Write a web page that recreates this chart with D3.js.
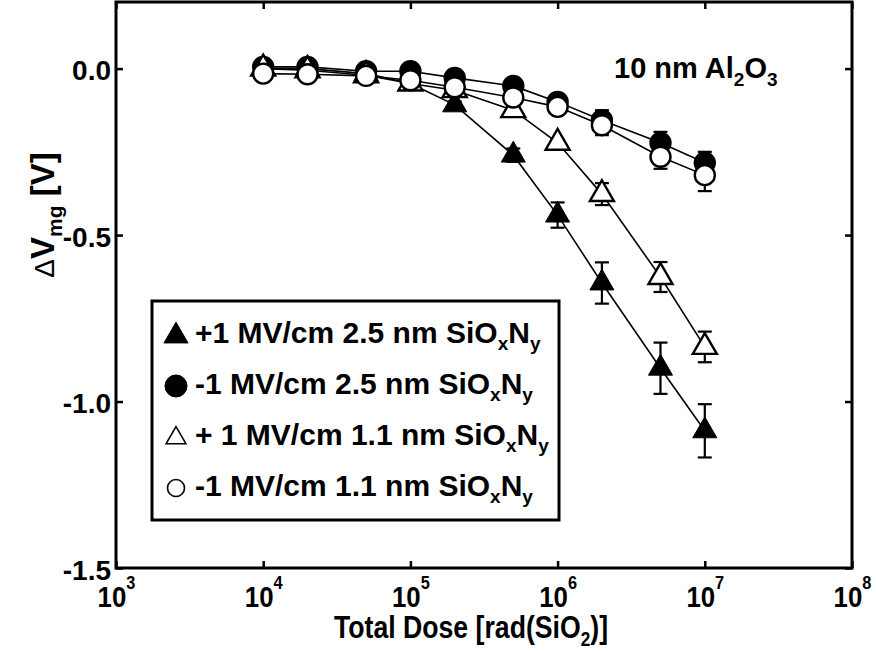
<!DOCTYPE html>
<html>
<head>
<meta charset="utf-8">
<script src="https://cdn.jsdelivr.net/npm/d3@7"></script>
<style>
  html, body { margin: 0; padding: 0; background: #fff; }
  svg { display: block; }
  text { font-family: "Liberation Sans", Arial, sans-serif; font-weight: bold; fill: #000; }
</style>
</head>
<body>
<svg id="chart" width="876" height="651"></svg>
<script>
// Total dose (rad(SiO2)) at which each shift was measured
const dose = [1e4, 2e4, 5e4, 1e5, 2e5, 5e5, 1e6, 2e6, 5e6, 1e7];

// Midgap voltage shift ΔVmg (V) and error bars for each bias / interlayer
const posBias25 = [0.0, 0.0, -0.015, -0.045, -0.109, -0.26, -0.44, -0.644, -0.90, -1.088];
const posBias25Err = [0, 0, 0, 0, 0.01, 0.02, 0.038, 0.062, 0.077, 0.08];
const negBias25 = [0.005, 0.005, -0.008, -0.008, -0.028, -0.052, -0.10, -0.155, -0.223, -0.283];
const negBias25Err = [0, 0, 0, 0, 0, 0.01, 0.02, 0.03, 0.033, 0.033];
const posBias11 = [0.0, -0.005, -0.02, -0.045, -0.065, -0.125, -0.223, -0.377, -0.626, -0.836];
const posBias11Err = [0, 0, 0, 0, 0, 0.01, 0.01, 0.033, 0.045, 0.046];
const negBias11 = [-0.015, -0.017, -0.022, -0.035, -0.056, -0.087, -0.115, -0.17, -0.265, -0.32];
const negBias11Err = [0, 0, 0, 0, 0, 0.01, 0.015, 0.03, 0.036, 0.048];

const xTickExp = [3, 4, 5, 6, 7, 8];
const yTicks = [0, -0.5, -1.0, -1.5];

const series = [
  { values: posBias25, err: posBias25Err, shape: "triangle", filled: true,
    label: ["+1 MV/cm 2.5 nm SiO", "x", "N", "y"] },
  { values: negBias25, err: negBias25Err, shape: "circle", filled: true,
    label: ["-1 MV/cm 2.5 nm SiO", "x", "N", "y"] },
  { values: posBias11, err: posBias11Err, shape: "triangle", filled: false,
    label: ["+ 1 MV/cm 1.1 nm SiO", "x", "N", "y"] },
  { values: negBias11, err: negBias11Err, shape: "circle", filled: false,
    label: ["-1 MV/cm 1.1 nm SiO", "x", "N", "y"] }
];

const svg = d3.select("#chart");
const plot = { left: 116, right: 852, top: 2, bottom: 568 };

const x = d3.scaleLog().domain([1e3, 1e8]).range([plot.left, plot.right]);
const y = d3.scaleLinear().domain([-1.5, 0.2]).range([plot.bottom, plot.top]);

// Inward ticks on all four sides
const tickLen = 7;
const axisStyle = g => {
  g.select(".domain").remove();
  g.selectAll(".tick line").attr("stroke", "#000").attr("stroke-width", 2.5);
  g.selectAll(".tick text").remove();
};

const xBottom = svg.append("g").attr("transform", `translate(0,${plot.bottom})`)
  .call(d3.axisBottom(x).tickValues(xTickExp.map(e => Math.pow(10, e)))
    .tickSize(-tickLen).tickFormat(""))
  .call(axisStyle);
svg.append("g").attr("transform", `translate(0,${plot.top})`)
  .call(d3.axisTop(x).tickValues(xTickExp.map(e => Math.pow(10, e)))
    .tickSize(-tickLen).tickFormat(""))
  .call(axisStyle);

const yLeft = svg.append("g").attr("transform", `translate(${plot.left},0)`)
  .call(d3.axisLeft(y).tickValues(yTicks).tickSize(-tickLen))
  .call(axisStyle);
svg.append("g").attr("transform", `translate(${plot.right},0)`)
  .call(d3.axisRight(y).tickValues(yTicks).tickSize(-tickLen).tickFormat(""))
  .call(axisStyle);

// Value labels beside the left axis
yLeft.selectAll(".tick").append("text")
  .attr("x", -5).attr("y", 11).attr("text-anchor", "end")
  .attr("font-size", "28px")
  .text(d => d3.format(".1f")(d).replace("−", "-"));

// Power-of-ten labels under the bottom axis (condensed, as in the axis title)
xBottom.selectAll(".tick").each(function (d) {
  const t = d3.select(this).append("g").attr("transform", "translate(0,39) scale(0.86,1)")
    .append("text").attr("text-anchor", "middle").attr("font-size", "30px");
  t.append("tspan").text("10");
  t.append("tspan").attr("font-size", "19px").attr("dy", -18).text(Math.round(Math.log10(d)));
});

// Frame
svg.append("rect")
  .attr("x", plot.left).attr("y", plot.top)
  .attr("width", plot.right - plot.left).attr("height", plot.bottom - plot.top)
  .attr("fill", "none").attr("stroke", "#000").attr("stroke-width", 3);

// Connecting lines
const line = d3.line().x((d, i) => x(dose[i])).y(d => y(d));
series.forEach(s => {
  svg.append("path").datum(s.values)
    .attr("d", line).attr("fill", "none").attr("stroke", "#000").attr("stroke-width", 1.6);
});

// Error bars
const capHalf = 7;
series.forEach(s => {
  const g = svg.append("g").attr("stroke", "#000").attr("stroke-width", 2.2);
  s.values.forEach((v, i) => {
    const e = s.err[i];
    if (!e) return;
    const cx = x(dose[i]);
    g.append("line").attr("x1", cx).attr("x2", cx).attr("y1", y(v + e)).attr("y2", y(v - e));
    [v + e, v - e].forEach(w => {
      g.append("line").attr("x1", cx - capHalf).attr("x2", cx + capHalf)
        .attr("y1", y(w)).attr("y2", y(w));
    });
  });
});

// Markers
const triangle = d3.symbol().type(d3.symbolTriangle).size(250);
series.forEach(s => {
  const g = svg.append("g");
  s.values.forEach((v, i) => {
    const cx = x(dose[i]), cy = y(v);
    if (s.shape === "circle") {
      g.append("circle").attr("cx", cx).attr("cy", cy).attr("r", 10)
        .attr("fill", s.filled ? "#000" : "#fff").attr("stroke", "#000").attr("stroke-width", 2.4);
    } else {
      g.append("path").attr("d", triangle).attr("transform", `translate(${cx},${cy})`)
        .attr("fill", s.filled ? "#000" : "#fff").attr("stroke", "#000")
        .attr("stroke-width", s.filled ? 1 : 2.4).attr("stroke-linejoin", "miter");
    }
  });
});

// Legend
const legend = svg.append("g");
legend.append("rect").attr("x", 152).attr("y", 301).attr("width", 407).attr("height", 219)
  .attr("fill", "#fff").attr("stroke", "#000").attr("stroke-width", 3);
const legendSym = d3.symbol().type(d3.symbolTriangle);
series.forEach((s, i) => {
  const ry = 334 + i * 51;
  const mx = 176;
  if (s.shape === "circle") {
    legend.append("circle").attr("cx", mx).attr("cy", ry + 1).attr("r", s.filled ? 11 : 8.5)
      .attr("fill", s.filled ? "#000" : "#fff").attr("stroke", "#000").attr("stroke-width", s.filled ? 1 : 1.6);
  } else {
    legend.append("path").attr("d", legendSym.size(s.filled ? 250 : 170))
      .attr("transform", `translate(${mx},${ry + 2})`)
      .attr("fill", s.filled ? "#000" : "#fff").attr("stroke", "#000").attr("stroke-width", s.filled ? 1 : 1.6);
  }
  const t = legend.append("text").attr("x", 195).attr("y", ry + 9).attr("font-size", "30px");
  t.append("tspan").text(s.label[0]);
  t.append("tspan").attr("font-size", "19px").attr("dy", 7).text(s.label[1]);
  t.append("tspan").attr("dy", -7).text(s.label[2]);
  t.append("tspan").attr("font-size", "19px").attr("dy", 7).text(s.label[3]);
});

// Oxide annotation
const ann = svg.append("text").attr("x", 614).attr("y", 78).attr("font-size", "29px");
ann.append("tspan").text("10 nm Al");
ann.append("tspan").attr("font-size", "19px").attr("dy", 8).text("2");
ann.append("tspan").attr("dy", -8).text("O");
ann.append("tspan").attr("font-size", "19px").attr("dy", 8).text("3");

// Axis titles
const xt = svg.append("g").attr("transform", "translate(471,638) scale(0.86,1)")
  .append("text").attr("text-anchor", "middle").attr("font-size", "31px");
xt.append("tspan").text("Total Dose [rad(SiO");
xt.append("tspan").attr("font-size", "20px").attr("dy", 8).text("2");
xt.append("tspan").attr("dy", -8).text(")]");

const yt = svg.append("text").attr("transform", "translate(54,215) rotate(-90)")
  .attr("text-anchor", "middle").attr("font-size", "33px");
yt.append("tspan").attr("font-weight", "normal").attr("font-size", "28px").text("Δ");
yt.append("tspan").text("V");
yt.append("tspan").attr("font-size", "21px").attr("dy", 8).text("mg");
yt.append("tspan").attr("dy", -8).text(" [V]");
</script>
</body>
</html>
